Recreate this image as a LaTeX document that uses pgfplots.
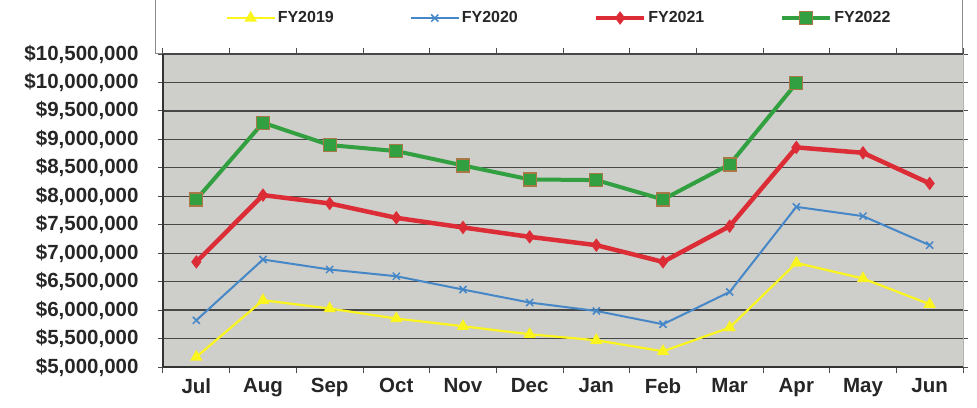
\documentclass[border=0pt]{standalone}
\usepackage{fontspec}
\setmainfont{Liberation Sans}
\usepackage{pgfplots}
\pgfplotsset{compat=1.18}
\definecolor{bg}{RGB}{206,206,202}
\definecolor{cy}{RGB}{250,245,30}
\definecolor{cb}{RGB}{70,135,200}
\definecolor{cr}{RGB}{220,45,55}
\definecolor{cg}{RGB}{50,160,65}
\definecolor{cgb}{RGB}{170,120,70}
\begin{document}
\begin{tikzpicture}
\useasboundingbox (0pt,0pt) rectangle (977pt,407pt);
\draw[black!45, line width=1pt, fill=white] (155pt,353pt) rectangle (962pt,420pt);
\begin{axis}[
  at={(163pt,40pt)}, anchor=south west,
  width=800pt, height=313pt, scale only axis,
  xmin=-0.5, xmax=11.5, ymin=5000000, ymax=10500000,
  scaled y ticks=false,
  xtick={0,...,11},
  xticklabels={Jul,Aug,Sep,Oct,Nov,Dec,Jan,Feb,Mar,Apr,May,Jun},
  major x tick style={draw=none},
  minor xtick={-0.5,0.5,...,11.5},
  minor x tick style={black!70, line width=1pt},
  minor tick length=6pt,
  tick align=outside,
  ytick={5000000,5500000,6000000,6500000,7000000,7500000,8000000,8500000,9000000,9500000,10000000,10500000},
  yticklabels={{\$5,000,000},{\$5,500,000},{\$6,000,000},{\$6,500,000},{\$7,000,000},{\$7,500,000},{\$8,000,000},{\$8,500,000},{\$9,000,000},{\$9,500,000},{\$10,000,000},{\$10,500,000}},
  major y tick style={black!70, line width=1pt},
  major tick length=5pt,
  ymajorgrids, grid style={black!72, line width=1.2pt},
  axis background/.style={fill=bg},
  axis line style={draw=none},
  ticklabel style={font=\fontsize{20.5}{23}\selectfont\bfseries, text=black!85},
  xticklabel style={yshift=-3pt},
  yticklabel style={xshift=-16pt},
  legend columns=4,
  legend style={at={(0.5,1)}, anchor=center, yshift=36pt, xshift=-4pt, draw=none, fill=none,
    font=\fontsize{16}{19}\selectfont\bfseries, text=black!85,
    /tikz/every even column/.append style={column sep=74pt},
    inner sep=0pt},
  legend image code/.code={\draw[mark repeat=2,mark phase=2,#1] plot coordinates {(0pt,0pt)(24pt,0pt)(48pt,0pt)};},
  clip=false,
]
\draw[black!80, line width=1.5pt] (rel axis cs:0,0) -- (rel axis cs:0,1);
\draw[black!80, line width=1.5pt] (rel axis cs:0,0) -- (rel axis cs:1,0);
\draw[black!30, line width=1pt] (rel axis cs:1,0) -- (rel axis cs:1,1);
\addplot[cy, line width=2.2pt, mark=triangle*, mark size=5pt, mark options={fill=cy, draw=cy}] coordinates {
(0,5176000)(1,6173000)(2,6027000)(3,5851000)(4,5716000)(5,5575000)(6,5470000)(7,5276000)(8,5693000)(9,6829000)(10,6555000)(11,6103000)};
\addlegendentry{FY2019}
\addplot[cb, line width=2pt, mark=x, mark size=5pt, mark options={line width=1.5pt}] coordinates {
(0,5821000)(1,6889000)(2,6713000)(3,6595000)(4,6361000)(5,6133000)(6,5985000)(7,5751000)(8,6319000)(9,7814000)(10,7651000)(11,7141000)};
\addlegendentry{FY2020}
\addplot[cr, line width=4.5pt, mark=diamond*, mark size=6pt, mark options={fill=cr, draw=cr, line width=1pt}] coordinates {
(0,6847000)(1,8020000)(2,7874000)(3,7621000)(4,7452000)(5,7287000)(6,7141000)(7,6847000)(8,7475000)(9,8859000)(10,8764000)(11,8226000)};
\addlegendentry{FY2021}
\addplot[cg, line width=4pt, mark=square*, mark size=6.5pt, mark options={fill=cg, draw=cgb, line width=1.2pt}] coordinates {
(0,7944000)(1,9292000)(2,8900000)(3,8794000)(4,8542000)(5,8296000)(6,8284000)(7,7944000)(8,8560000)(9,9985000)};
\addlegendentry{FY2022}
\end{axis}
\end{tikzpicture}
\end{document}
